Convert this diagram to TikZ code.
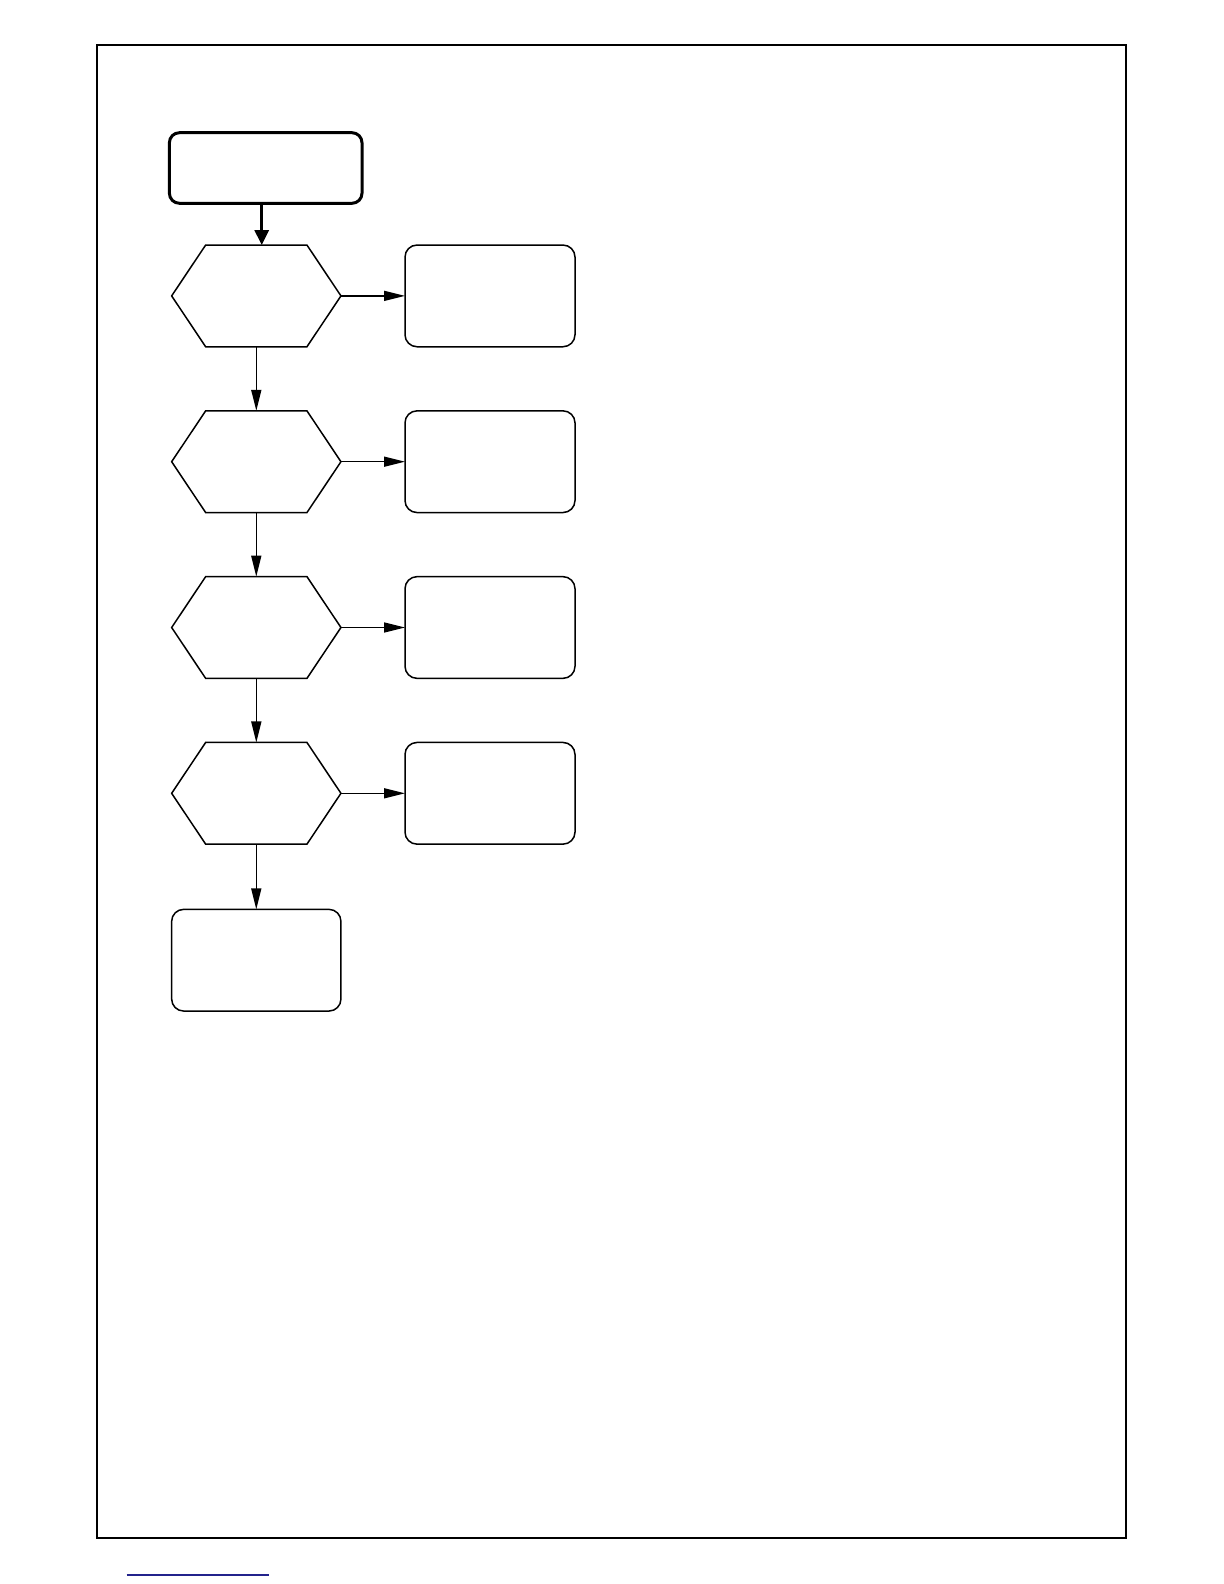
\documentclass[tikz,border=0pt]{standalone}
\usetikzlibrary{arrows.meta,calc}
\definecolor{linkblue}{RGB}{35,35,140}
\begin{document}
\begin{tikzpicture}[x=0.5pt,y=-0.5pt,
  hexbox/.style={draw=none,minimum width=84.65pt,minimum height=50.85pt,inner sep=0pt,outer sep=0pt},
  sidebox/.style={draw,line width=0.75pt,rounded corners=6pt,minimum width=85pt,minimum height=50.85pt,inner sep=0pt,outer sep=0pt},
  startbox/.style={draw,line width=1.5pt,rounded corners=5pt,minimum width=96.3pt,minimum height=35.3pt,inner sep=0pt,outer sep=0pt},
  hexline/.style={line width=0.75pt,line join=miter},
  flow/.style={line width=0.75pt,-{Triangle[length=10.5pt,width=5pt]}},
  thickflow/.style={line width=1.5pt,-{Triangle[length=7.5pt,width=7pt]}}]
\useasboundingbox (0,0) rectangle (1224,1584);
\draw[line width=1pt] (97,45) rectangle (1126,1538);
\draw[linkblue,line width=0.65pt] (126.7,1575) -- (269,1575);

\node[startbox] (s) at (265.7,168) {};

\foreach \i/\y in {1/295.9,2/461.7,3/627.5,4/793.3}{
  \node[hexbox] (h\i) at (256.3,\y) {};
  \draw[hexline] (h\i.west) -- ($(h\i.north west)+(34,0)$) -- ($(h\i.north east)+(-34,0)$)
     -- (h\i.east) -- ($(h\i.south east)+(-34,0)$) -- ($(h\i.south west)+(34,0)$) -- cycle;
  \node[sidebox] (b\i) at (490,\y) {};
  \draw[flow] (h\i.east) -- (b\i.west);
}
\node[sidebox,minimum width=84.65pt] (e) at (256.3,960.2) {};

\draw[thickflow] ([xshift=-2pt]s.south) -- ([xshift=-2pt]s.south |- h1.north);
\draw[flow] (h1.south) -- (h2.north);
\draw[flow] (h2.south) -- (h3.north);
\draw[flow] (h3.south) -- (h4.north);
\draw[flow] (h4.south) -- (e.north);
\end{tikzpicture}
\end{document}
